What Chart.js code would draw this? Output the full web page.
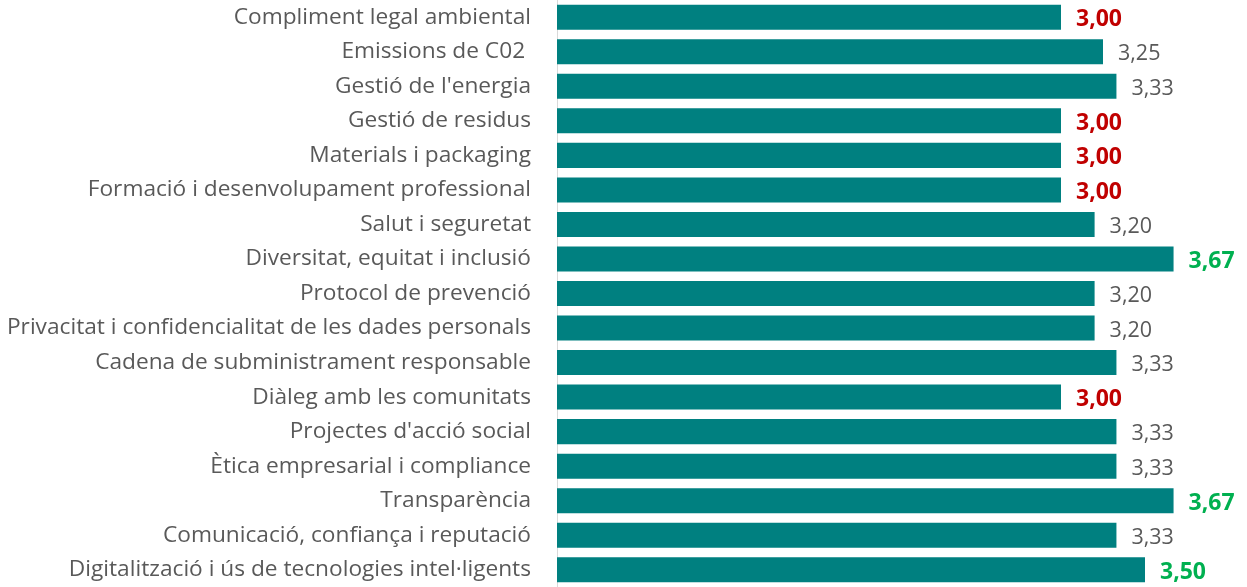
<!DOCTYPE html>
<html>
<head>
<meta charset="utf-8">
<script src="https://cdn.jsdelivr.net/npm/chart.js@4"></script>
<style>
  html, body { margin: 0; padding: 0; background: #fff; }
  #wrap { width: 1247px; height: 587px; position: relative; }
</style>
</head>
<body>
<div id="wrap"><canvas id="chart"></canvas></div>
<script>
const categories = [
  'Compliment legal ambiental',
  'Emissions de C02 ',
  "Gestió de l'energia",
  'Gestió de residus',
  'Materials i packaging',
  'Formació i desenvolupament professional',
  'Salut i seguretat',
  'Diversitat, equitat i inclusió',
  'Protocol de prevenció',
  'Privacitat i confidencialitat de les dades personals',
  'Cadena de subministrament responsable',
  'Diàleg amb les comunitats',
  "Projectes d'acció social",
  'Ètica empresarial i compliance',
  'Transparència',
  'Comunicació, confiança i reputació',
  'Digitalització i ús de tecnologies intel·ligents'
];
const scores = [3.00, 3.25, 3.33, 3.00, 3.00, 3.00, 3.20, 3.67, 3.20, 3.20, 3.33, 3.00, 3.33, 3.33, 3.67, 3.33, 3.50];
const lowScore = 3.00;
const highScore = 3.50;

const FONT = "'Open Sans', sans-serif";

// value labels drawn after each bar end
const valueLabels = {
  id: 'valueLabels',
  afterDatasetsDraw(chart) {
    const ctx = chart.ctx;
    const meta = chart.getDatasetMeta(0);
    ctx.save();
    ctx.textBaseline = 'middle';
    ctx.textAlign = 'left';
    meta.data.forEach((bar, i) => {
      const v = scores[i];
      let color = '#595959', font = 'normal 21.5px ';
      if (v <= lowScore) { color = '#C00000'; font = 'bold 23px '; }
      else if (v >= highScore) { color = '#00B050'; font = 'bold 23px '; }
      ctx.fillStyle = color;
      ctx.font = font + FONT;
      ctx.fillText(v.toFixed(2).replace('.', ','), bar.x + 15, bar.y + 2.5);
    });
    ctx.restore();
  }
};

new Chart(document.getElementById('chart'), {
  type: 'bar',
  data: {
    labels: categories,
    datasets: [{
      data: scores,
      backgroundColor: '#008080',
      categoryPercentage: 1,
      barPercentage: 0.725
    }]
  },
  options: {
    indexAxis: 'y',
    responsive: true,
    maintainAspectRatio: false,
    animation: false,
    layout: { padding: { top: 0, bottom: 0, left: 0, right: 18 } },
    plugins: { legend: { display: false }, tooltip: { enabled: false } },
    scales: {
      x: {
        display: false,
        min: 0,
        max: 4
      },
      y: {
        afterFit(scale) {
          scale.width = 557;
          scale.paddingTop = 0;
          scale.paddingBottom = 0;
        },
        grid: { display: false, drawTicks: false },
        border: { display: true, color: '#d9d9d9', width: 1 },
        ticks: {
          padding: 26,
          color: '#595959',
          font: { family: FONT, size: 22.7 },
          autoSkip: false
        }
      }
    }
  },
  plugins: [valueLabels]
});
</script>
</body>
</html>
